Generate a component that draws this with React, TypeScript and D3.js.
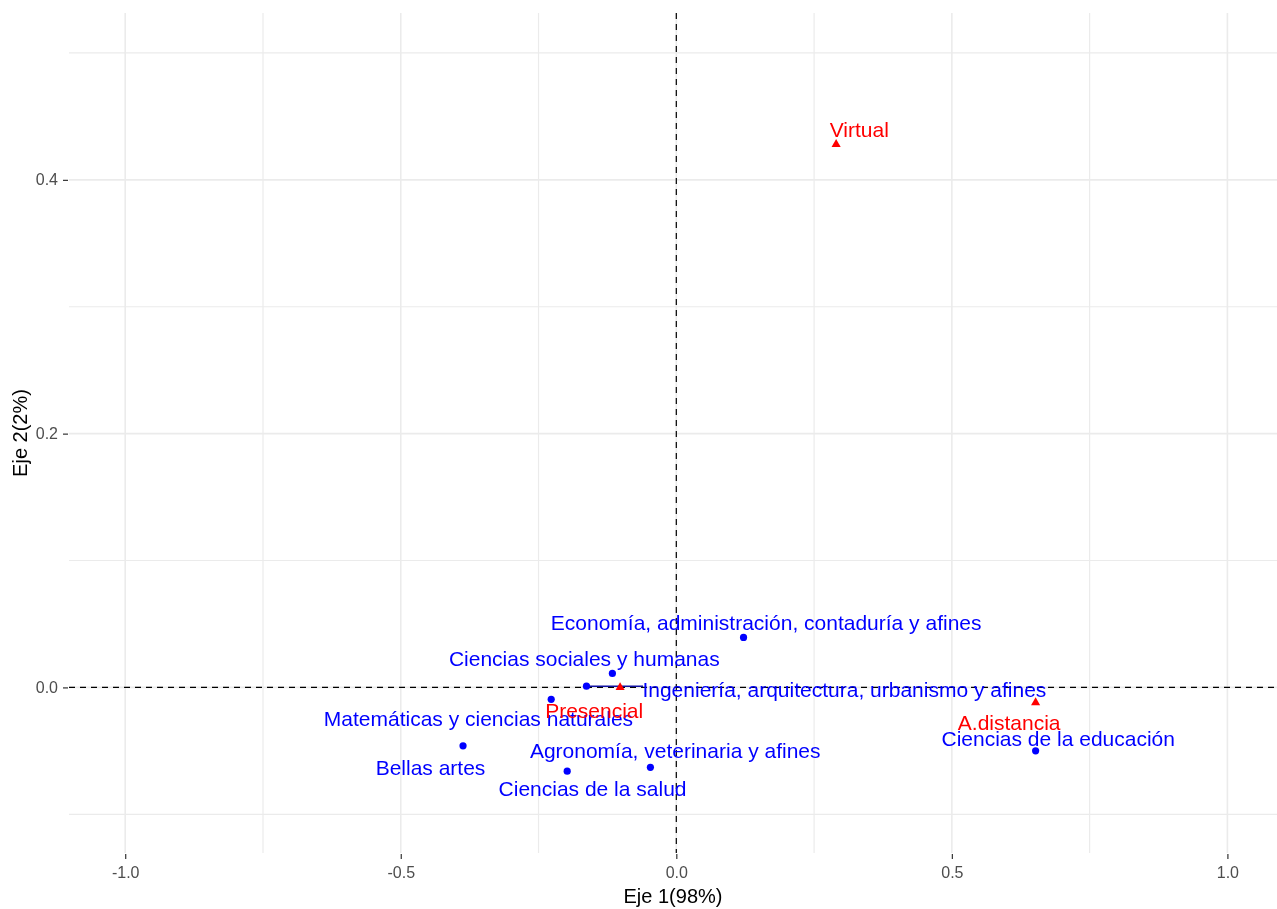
import React, { useEffect, useRef } from 'react';
import * as d3 from 'd3';

// column categories (areas de conocimiento)
const areaNames = [
  'Economía, administración, contaduría y afines',
  'Ciencias sociales y humanas',
  'Ingeniería, arquitectura, urbanismo y afines',
  'Matemáticas y ciencias naturales',
  'Bellas artes',
  'Ciencias de la salud',
  'Agronomía, veterinaria y afines',
  'Ciencias de la educación',
];
const areaX = [0.122, -0.116, -0.163, -0.227, -0.387, -0.198, -0.047, 0.652];
const areaY = [0.0394, 0.011, 0.001, -0.0094, -0.046, -0.066, -0.063, -0.05];
// repelled label positions (data units)
const areaLabelX = [0.163, -0.167, 0.305, -0.359, -0.446, -0.152, -0.002, 0.693];
const areaLabelY = [0.051, 0.0228, -0.0016, -0.0244, -0.063, -0.08, -0.05, -0.04];

// row categories (modalidad)
const modNames = ['Virtual', 'Presencial', 'A.distancia'];
const modX = [0.29, -0.102, 0.652];
const modY = [0.428, 0.0, -0.012];
const modLabelX = [0.332, -0.149, 0.604];
const modLabelY = [0.44, -0.018, -0.0276];

const xMajor = [-1.0, -0.5, 0.0, 0.5, 1.0];
const xMinor = [-0.75, -0.25, 0.25, 0.75];
const yMajor = [0.0, 0.2, 0.4];
const yMinor = [-0.1, 0.1, 0.3, 0.5];

export default function App() {
  const svgRef = useRef<SVGSVGElement>(null);

  useEffect(() => {
    const w = 1277;
    const h = 909;
    const m = { left: 69, right: 0, top: 13, bottom: 56 };
    const svg = d3.select(svgRef.current).attr('width', w).attr('height', h);
    svg.selectAll('*').remove();

    const x = d3.scaleLinear().domain([-1.102, 1.09]).range([m.left, w - m.right]);
    const y = d3.scaleLinear().domain([-0.1305, 0.5315]).range([h - m.bottom, m.top]);
    const font = '"Liberation Sans", Arial, sans-serif';
    const fmt = (d: any) => d3.format('.1f')(d).replace('\u2212', '-');

    const grid = svg.append('g');
    // minor grid
    grid.selectAll('.vminor').data(xMinor).join('line')
      .attr('x1', d => x(d)).attr('x2', d => x(d))
      .attr('y1', m.top).attr('y2', h - m.bottom)
      .attr('stroke', '#EBEBEB').attr('stroke-width', 1.2);
    grid.selectAll('.hminor').data(yMinor).join('line')
      .attr('x1', m.left).attr('x2', w - m.right)
      .attr('y1', d => y(d)).attr('y2', d => y(d))
      .attr('stroke', '#EBEBEB').attr('stroke-width', 1.2);
    // major grid
    grid.selectAll('.vmajor').data(xMajor).join('line')
      .attr('x1', d => x(d)).attr('x2', d => x(d))
      .attr('y1', m.top).attr('y2', h - m.bottom)
      .attr('stroke', '#EBEBEB').attr('stroke-width', 1.6);
    grid.selectAll('.hmajor').data(yMajor).join('line')
      .attr('x1', m.left).attr('x2', w - m.right)
      .attr('y1', d => y(d)).attr('y2', d => y(d))
      .attr('stroke', '#EBEBEB').attr('stroke-width', 1.6);

    // axes
    const xAxis = d3.axisBottom(x).tickValues(xMajor).tickSize(5).tickPadding(8).tickFormat(fmt);
    const gx = svg.append('g').attr('transform', `translate(0,${h - m.bottom + 1})`).call(xAxis);
    gx.attr('font-size', null).attr('font-family', null);
    gx.select('.domain').remove();
    gx.selectAll('line').attr('stroke', '#333333').attr('stroke-width', 1.2);
    gx.selectAll('text').attr('fill', '#4D4D4D').style('font-family', font).style('font-size', '16px');

    const yAxis = d3.axisLeft(y).tickValues(yMajor).tickSize(5).tickPadding(5).tickFormat(fmt);
    const gy = svg.append('g').attr('transform', `translate(${m.left - 1},0)`).call(yAxis);
    gy.attr('font-size', null).attr('font-family', null);
    gy.select('.domain').remove();
    gy.selectAll('line').attr('stroke', '#333333').attr('stroke-width', 1.2);
    gy.selectAll('text').attr('fill', '#4D4D4D').style('font-family', font).style('font-size', '16px');

    // axis titles
    svg.append('text').attr('x', 673).attr('y', 903)
      .attr('text-anchor', 'middle').style('font-family', font).style('font-size', '20px')
      .attr('fill', '#000').text('Eje 1(98%)');
    svg.append('text')
      .attr('transform', `translate(27,${(m.top + h - m.bottom) / 2}) rotate(-90)`)
      .attr('text-anchor', 'middle').style('font-family', font).style('font-size', '20px')
      .attr('fill', '#000').text('Eje 2(2%)');

    // reference lines
    svg.append('line').attr('x1', x(0)).attr('x2', x(0))
      .attr('y1', m.top).attr('y2', h - m.bottom)
      .attr('stroke', '#000').attr('stroke-width', 1.2).attr('stroke-dasharray', '6,5');
    svg.append('line').attr('x1', m.left).attr('x2', w - m.right)
      .attr('y1', y(0)).attr('y2', y(0))
      .attr('stroke', '#000').attr('stroke-width', 1.2).attr('stroke-dasharray', '6,5');

    const areaIdx = d3.range(areaNames.length);
    const modIdx = d3.range(modNames.length);

    // ggrepel segment for Ingeniería
    const ing = 2;
    svg.append('line')
      .attr('x1', x(areaX[ing])).attr('y1', y(areaY[ing]))
      .attr('x2', 643).attr('y2', y(areaY[ing]))
      .attr('stroke', '#1010a0').attr('stroke-width', 1.5);

    // points
    svg.append('g').selectAll('circle').data(areaIdx).join('circle')
      .attr('cx', i => x(areaX[i])).attr('cy', i => y(areaY[i]))
      .attr('r', 3.6).attr('fill', '#0000FF');

    const tri = d3.symbol().type(d3.symbolTriangle).size(36);
    svg.append('g').selectAll('path').data(modIdx).join('path')
      .attr('d', tri)
      .attr('transform', i => `translate(${x(modX[i])},${y(modY[i])})`)
      .attr('fill', '#FF0000');

    // labels
    svg.append('g').selectAll('text').data(areaIdx).join('text')
      .attr('x', i => x(areaLabelX[i])).attr('y', i => y(areaLabelY[i]))
      .attr('text-anchor', 'middle').attr('dominant-baseline', 'central')
      .style('font-family', font).style('font-size', '21px')
      .attr('fill', '#0000FF').text(i => areaNames[i]);

    svg.append('g').selectAll('text').data(modIdx).join('text')
      .attr('x', i => x(modLabelX[i])).attr('y', i => y(modLabelY[i]))
      .attr('text-anchor', 'middle').attr('dominant-baseline', 'central')
      .style('font-family', font).style('font-size', '21px')
      .attr('fill', '#FF0000').text(i => modNames[i]);
  }, []);

  return (
    <div style={{ position: 'fixed', left: 0, top: 0, width: 1277, height: 909, overflow: 'hidden' }}>
      <svg ref={svgRef} style={{ display: 'block' }}></svg>
    </div>
  );
}
